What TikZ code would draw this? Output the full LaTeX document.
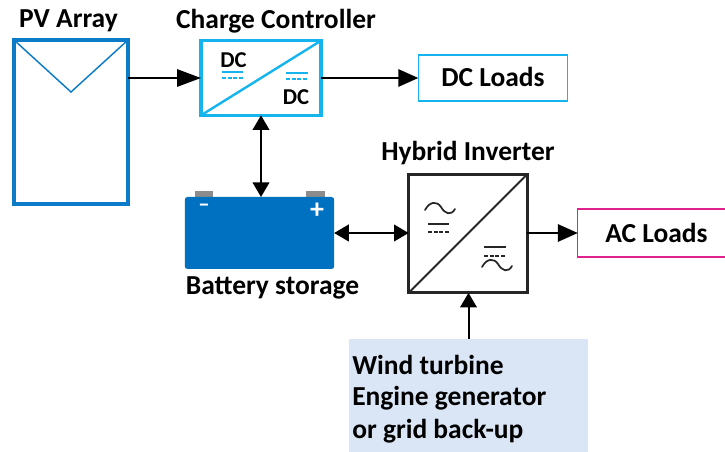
\documentclass[tikz,border=0pt]{standalone}
\usepackage{fontspec}
\setmainfont{Carlito}
\usepackage{xcolor}
\usepackage{tikz}
\usetikzlibrary{arrows.meta}
\definecolor{pvblue}{HTML}{0C7CC8}
\definecolor{ctrlblue}{HTML}{14B4EE}
\definecolor{batblue}{HTML}{0070C0}
\definecolor{termgray}{HTML}{8C8C8C}
\definecolor{acpink}{HTML}{E0208C}
\definecolor{windbg}{HTML}{DAE6F5}
\tikzset{>={Triangle[length=15pt,width=13pt]}}
\tikzset{
  unitbox/.style={draw,outer sep=0pt,inner sep=0pt},
  title/.style={font=\bfseries\fontsize{20.6}{24}\selectfont,inner sep=0pt},
  small/.style={font=\bfseries\fontsize{17}{20}\selectfont,inner sep=0pt},
  link/.style={line width=1.5pt,black},
  tiplong/.style={-{Triangle[length=18pt,width=13pt]}},
  tipshort/.style={-{Triangle[length=11pt,width=12.5pt]}},
  tipboth/.style={{Triangle[length=11pt,width=12.5pt]}-{Triangle[length=11pt,width=12.5pt]}},
  glyph/.style={line width=1pt,line cap=butt},
  dashglyph/.style={line width=1pt,dash pattern=on 3pt off 1.2pt},
  wave/.style={line width=1.3pt,line cap=round},
}
\begin{document}
\begin{tikzpicture}[x=0.75pt,y=-0.75pt]
    \useasboundingbox (0,0) rectangle (725,452);
    % boxes
    \node[unitbox,pvblue,line width=2.4pt,minimum width=85.5pt,minimum height=123pt] at (71,122) (pv) {};
    \node[unitbox,ctrlblue,line width=2.6pt,minimum width=90pt,minimum height=56pt] at (261,78) (ctrl) {};
    \node[unitbox,ctrlblue,line width=0.9pt,minimum width=112pt,minimum height=34.5pt,font=\bfseries\fontsize{20.6}{24}\selectfont,text=black] at (493,78) (dcload) {\raisebox{1pt}{DC Loads}};
    \node[unitbox,black!85,line width=2.2pt,minimum width=89pt,minimum height=89pt] at (468,233.5) (inv) {};
    \node[unitbox,acpink,line width=0.9pt,minimum width=110.5pt,minimum height=36pt,text=black] at (651.5,233) (acload) {};
    \node[title] at (656.5,233) (aclab) {AC Loads};
    \node[fill=windbg,outer sep=0pt,inner sep=0pt,minimum width=179pt,minimum height=85pt] at (468.5,395.5) (wind) {};
    % battery
    \fill[termgray] (195,191) rectangle (213,198);
    \fill[termgray] (306,191) rectangle (325,198);
    \node[fill=batblue,rounded corners=2pt,outer sep=0pt,inner sep=0pt,minimum width=112pt,minimum height=54pt] at (259.5,233) (bat) {};
    \node[text=white,font=\bfseries\fontsize{17}{20}\selectfont,inner sep=0pt] at (204,208) (minus) {--};
    \node[text=white,font=\bfseries\fontsize{21}{24}\selectfont,inner sep=0pt] at (317,211) (plus) {+};
    % labels
    \node[title] at (68.5,21) (pvlab) {PV Array};
    \node[title] at (276,21) (ctrllab) {Charge Controller};
    \node[title] at (468,153) (invlab) {Hybrid Inverter};
    \node[title] at (272.5,288) (batlab) {Battery storage};
    \node[title,anchor=west] at (352,364.5) (w1) {Wind turbine};
    \node[title,anchor=west] at (352,398.5) (w2) {Engine generator};
    \node[title,anchor=west] at (352,431.5) (w3) {or grid back-up};
    % inside pv
    \draw[pvblue,line width=1.1pt] (pv.north west)--(71,92)--(pv.north east);
    % inside controller
    \draw[ctrlblue,line width=1.8pt] (ctrl.south west)--(ctrl.north east);
    \node[small] at (233.5,60) (dc1) {DC};
    \node[small] at (296,97) (dc2) {DC};
    \draw[ctrlblue,glyph] (222,72)--(243,72);
    \draw[ctrlblue,dashglyph] (222,78)--(243,78);
    \draw[ctrlblue,glyph] (286,73)--(308,73);
    \draw[ctrlblue,dashglyph] (286,79)--(308,79);
    % inside inverter
    \draw[black!85,line width=1.5pt] (inv.south west)--(inv.north east);
    \draw[black!85,wave] (425,210) .. controls (430,201) and (437,201) .. (441,207) .. controls (445,214) and (451,216) .. (455,209);
    \draw[black!85,glyph] (428,224)--(449,224);
    \draw[black!85,dashglyph] (428,232)--(449,232);
    \draw[black!85,glyph] (484,247)--(506,247);
    \draw[black!85,dashglyph] (484,256)--(506,256);
    \draw[black!85,wave] (482,267) .. controls (487,258) and (494,258) .. (498,264) .. controls (502,271) and (508,273) .. (512,266);
    % connectors
    \draw[link,tiplong] (pv.east |- ctrl.west)--(ctrl.west);
    \draw[link,->] (ctrl.east)--(dcload.west);
    \draw[link,tipboth] (ctrl.south)--(ctrl.south |- bat.north);
    \draw[link,tipboth] (bat.east)--(inv.west |- bat.east);
    \draw[link,->] (inv.east |- acload.west)--(acload.west);
    \draw[link,tipshort] (wind.north)--(wind.north |- inv.south);
\end{tikzpicture}
\end{document}
